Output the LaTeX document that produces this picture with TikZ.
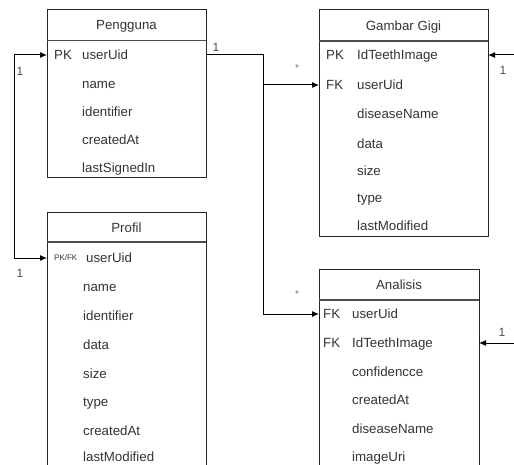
\documentclass[tikz,border=0pt]{standalone}
\usepackage{fontspec}
\setmainfont{Liberation Sans}
\usetikzlibrary{arrows.meta}
\begin{document}
\begin{tikzpicture}[x=1pt,y=-1pt,
  txt/.style={text=black!80, font=\fontsize{13.3}{15}\selectfont},
  fld/.style={txt, anchor=west, inner sep=0pt, text height=9.5pt, text depth=0pt},
  keytag/.style={fld},
  smalltag/.style={anchor=west, inner sep=0pt, text height=6pt, text depth=0pt, text=black!80, font=\fontsize{8}{9}\selectfont},
  title/.style={txt, anchor=center, inner sep=0pt, text height=9.5pt, text depth=0pt},
  entity/.style={draw=black!85, line width=1pt},
  sep/.style={draw=black!70, line width=1.6pt},
  link/.style={draw=black, line width=1pt},
  tip/.style={-{Latex[length=7pt,width=6pt]}},
  card/.style={text=black!70, font=\fontsize{12}{14}\selectfont, inner sep=0pt},
  star/.style={text=black!55, font=\fontsize{10}{12}\selectfont, inner sep=0pt}]
\useasboundingbox (0,0) rectangle (514,465);
\clip (0,0) rectangle (514,465);

% ---------------- Pengguna ----------------
\draw[entity] (47,10) rectangle (206,178);
\draw[sep] (47,40.5) -- (206,40.5);
\node[title] (pTitle) at (126.5,25) {Pengguna};
\node[keytag] (pPK) at (54,55) {PK};
\node[fld] (pUid) at (82,55) {userUid};
\node[fld] (pName) at (82,84) {name};
\node[fld] (pIdent) at (82,112) {identifier};
\node[fld] (pCreated) at (82,140) {createdAt};
\node[fld] (pSigned) at (82,168) {lastSignedIn};
\coordinate (pUidW) at (47,55);
\coordinate (pUidE) at (206,55);

% ---------------- Gambar Gigi ----------------
\draw[entity] (319,10) rectangle (488,237);
\draw[sep] (319,41) -- (488,41);
\node[title] (gTitle) at (403.5,25.5) {Gambar Gigi};
\node[keytag] (gPK) at (326,55) {PK};
\node[fld] (gImg) at (357,55) {IdTeethImage};
\node[keytag] (gFK) at (326,85) {FK};
\node[fld] (gUid) at (357,85) {userUid};
\node[fld] (gDisease) at (357,114) {diseaseName};
\node[fld] (gData) at (357,144) {data};
\node[fld] (gSize) at (357,171) {size};
\node[fld] (gType) at (357,198) {type};
\node[fld] (gMod) at (357,226) {lastModified};
\coordinate (gImgE) at (488,55);
\coordinate (gUidW) at (319,85);

% ---------------- Profil ----------------
\draw[entity] (47,213) rectangle (206,490);
\draw[sep] (47,242) -- (206,242);
\node[title] (prTitle) at (126.5,227.5) {Profil};
\node[smalltag] (prKey) at (54,258) {PK/FK};
\node[fld] (prUid) at (86,258) {userUid};
\node[fld] (prName) at (83,287) {name};
\node[fld] (prIdent) at (83,316) {identifier};
\node[fld] (prData) at (83,345) {data};
\node[fld] (prSize) at (83,374) {size};
\node[fld] (prType) at (83,402) {type};
\node[fld] (prCreated) at (83,431) {createdAt};
\node[fld] (prMod) at (83,457) {lastModified};
\coordinate (prUidW) at (47,258);

% ---------------- Analisis ----------------
\draw[entity] (319,269) rectangle (479,490);
\draw[sep] (319,300) -- (479,300);
\node[title] (aTitle) at (399,284.5) {Analisis};
\node[keytag] (aFK1) at (323,314) {FK};
\node[fld] (aUid) at (352,314) {userUid};
\node[keytag] (aFK2) at (323,343) {FK};
\node[fld] (aImg) at (352,343) {IdTeethImage};
\node[fld] (aConf) at (352,372) {confidencce};
\node[fld] (aCreated) at (352,400) {createdAt};
\node[fld] (aDisease) at (352,429) {diseaseName};
\node[fld] (aUri) at (352,457) {imageUri};
\coordinate (aUidW) at (319,314);
\coordinate (aImgE) at (479,343);

% ---------------- relations ----------------
% Pengguna.userUid -> Gambar Gigi.userUid and Analisis.userUid
\coordinate (split) at (263,55);
\draw[link,tip] (pUidE) -- (split) |- (gUidW);
\draw[link,tip] (split) |- (aUidW);
% Pengguna.userUid <-> Profil.userUid
\coordinate (loopL) at (14,55);
\draw[link,{Latex[length=7pt,width=6pt]}-{Latex[length=7pt,width=6pt]}] (pUidW) -- (loopL) |- (prUidW);
% Gambar Gigi.IdTeethImage and Analisis.IdTeethImage fed from the right
\coordinate (gIn) at (516,55);
\coordinate (aIn) at (516,343);
\draw[link,tip] (gIn) -- (gImgE);
\draw[link,tip] (aIn) -- (aImgE);

% cardinalities
\node[card] (c1) at (216,47) {1};
\node[card] (c2) at (20,71) {1};
\node[card] (c3) at (20,273) {1};
\node[star] (c4) at (297,68) {*};
\node[star] (c5) at (297,294) {*};
\node[card] (c6) at (503,70) {1};
\node[card] (c7) at (502,332) {1};
\end{tikzpicture}
\end{document}
